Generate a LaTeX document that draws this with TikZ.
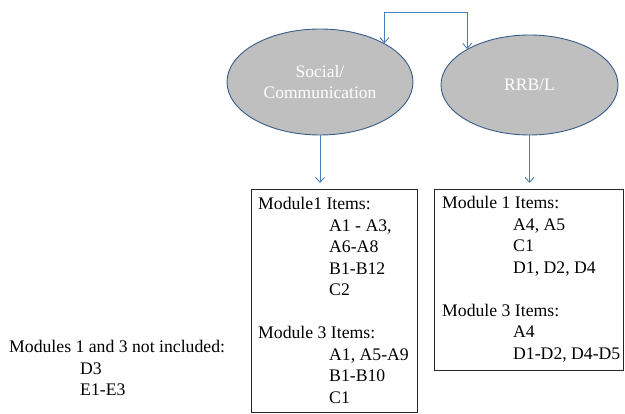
\documentclass[tikz,border=0pt]{standalone}
\usepackage{fontspec}
\setmainfont{Liberation Serif}
\usetikzlibrary{shapes.geometric,arrows.meta}
\definecolor{ellfill}{RGB}{191,191,191}
\definecolor{ellline}{RGB}{56,93,138}
\definecolor{conn}{RGB}{74,126,187}
\tikzset{
  oval/.style={ellipse, draw=ellline, fill=ellfill, line width=0.9pt, inner sep=0pt,
    text=white, align=center, font=\fontsize{17.5}{21.5}\selectfont},
  itembox/.style={draw=black!85, line width=0.8pt, anchor=north west, inner sep=0pt},
  conarrow/.style={draw=conn, line width=0.9pt, -{Straight Barb[length=5pt,width=9pt]}},
  plaintext/.style={align=left, inner sep=0pt, anchor=north west,
    font=\fontsize{17.7}{21.5}\selectfont}
}
\newcommand{\ind}{\hspace*{71pt}}
\begin{document}
\begin{tikzpicture}[x=1pt,y=-1pt]
\useasboundingbox (0,0) rectangle (625,414);
\node[oval, minimum width=186pt, minimum height=106pt] (soc) at (320,82) {Social/\\Communication};
\node[oval, minimum width=177pt, minimum height=100pt] (rrb) at (529.5,85) {RRB/L};
\node[itembox, minimum width=166pt, minimum height=223pt] (box1) at (251,189) {};
\node[itembox, minimum width=189pt, minimum height=181pt] (box2) at (434,189) {};
\node[plaintext] (t1) at (258,197.5)
  {Module1 Items:\\ \ind A1 - A3,\\ \ind A6-A8\\ \ind B1-B12\\ \ind C2\\[21.5pt]
   Module 3 Items:\\ \ind A1, A5-A9\\ \ind B1-B10\\ \ind C1};
\node[plaintext] (t2) at (442,196.5)
  {Module 1 Items:\\ \ind A4, A5\\ \ind C1\\ \ind D1, D2, D4\\[21.5pt]
   Module 3 Items:\\ \ind A4\\ \ind D1-D2, D4-D5};
\node[plaintext] (notinc) at (9,340.5)
  {Modules 1 and 3 not included:\\ \ind D3\\ \ind E1-E3};
\draw[conarrow, {Straight Barb[length=5pt,width=9pt]}-{Straight Barb[length=5pt,width=9pt]}]
  (soc.31.8) -- ++(0,-31) -| (rrb.150.5);
\draw[conarrow, shorten >=6pt] (soc.south) -- (soc.south |- box1.north);
\draw[conarrow, shorten >=6pt] (rrb.south) -- (rrb.south |- box2.north);
\end{tikzpicture}
\end{document}
